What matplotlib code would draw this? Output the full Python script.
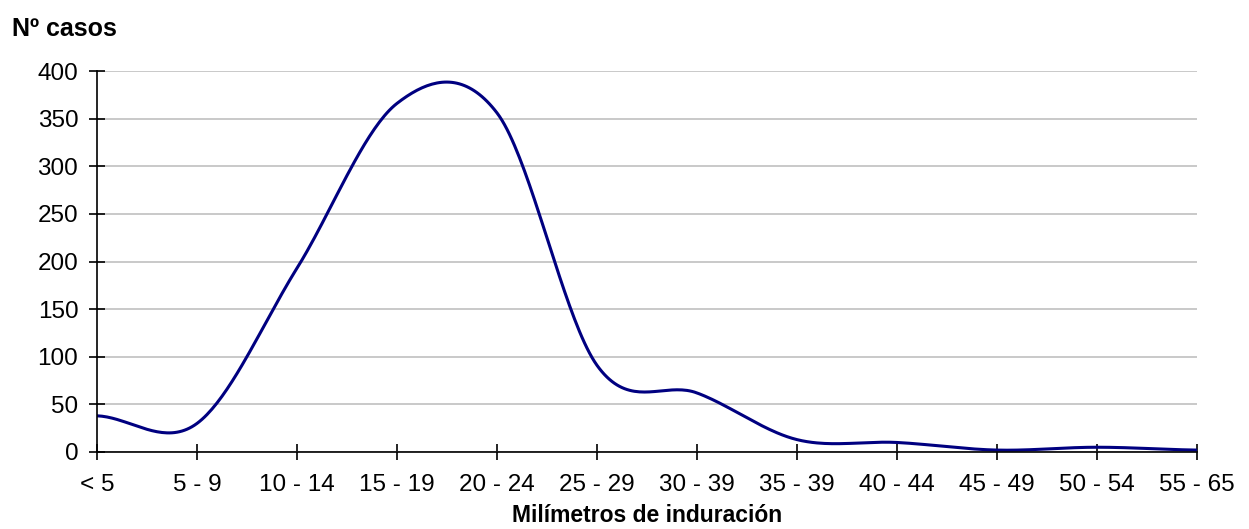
import numpy as np
import matplotlib.pyplot as plt

# Casos por rango de induración
rangos = ['< 5', '5 - 9', '10 - 14', '15 - 19', '20 - 24', '25 - 29',
          '30 - 39', '35 - 39', '40 - 44', '45 - 49', '50 - 54', '55 - 65']
casos = [38, 30, 193, 366, 356, 91, 62, 13, 10, 2, 5, 2]

plt.rcParams['font.family'] = ['Liberation Sans', 'DejaVu Sans']

# curva suavizada tipo Catmull-Rom que pasa por los puntos
def suavizar(y, n=40):
    y = np.asarray(y, dtype=float)
    p = np.concatenate([[y[0]], y, [y[-1]]])
    xs, ys = [], []
    for i in range(len(y) - 1):
        p0, p1, p2, p3 = p[i], p[i + 1], p[i + 2], p[i + 3]
        m1 = (p2 - p0) / 2
        m2 = (p3 - p1) / 2
        t = np.linspace(0, 1, n, endpoint=False)
        h00 = 2 * t**3 - 3 * t**2 + 1
        h10 = t**3 - 2 * t**2 + t
        h01 = -2 * t**3 + 3 * t**2
        h11 = t**3 - t**2
        ys.append(h00 * p1 + h10 * m1 + h01 * p2 + h11 * m2)
        xs.append(i + t)
    xs.append([len(y) - 1])
    ys.append([y[-1]])
    return np.concatenate(xs), np.concatenate(ys)

fig = plt.figure(figsize=(12.49, 5.29), dpi=100)
ax = fig.add_axes([97 / 1249, 1 - 452 / 529, 1100 / 1249, 381 / 529])

x, y = suavizar(casos)
ax.plot(x, y, color='#000080', lw=2.2, solid_joinstyle='round', zorder=3)

ax.set_xlim(0, len(rangos) - 1)
ax.set_ylim(0, 400)
ax.set_xticks(range(len(rangos)))
ax.set_xticklabels(rangos)
ax.set_yticks(range(0, 401, 50))
ax.yaxis.grid(True, color='#c0c0c0', lw=1.2)
ax.set_axisbelow(True)

for s in ['top', 'right']:
    ax.spines[s].set_visible(False)
for s in ['left', 'bottom']:
    ax.spines[s].set_linewidth(1.2)
    ax.spines[s].set_zorder(4)

ax.tick_params(axis='both', direction='inout', length=11, width=1.2,
               labelsize=17.5, colors='black')
ax.tick_params(axis='y', pad=8)
ax.tick_params(axis='x', pad=10)

fig.text(12 / 1249, 1 - 36 / 529, 'Nº casos', fontsize=18, fontweight='bold',
         va='baseline', ha='left')
fig.text(647 / 1249, 1 - 522 / 529, 'Milímetros de induración', fontsize=16.5,
         fontweight='bold', va='baseline', ha='center')

fig.savefig('out.png', dpi=100)
